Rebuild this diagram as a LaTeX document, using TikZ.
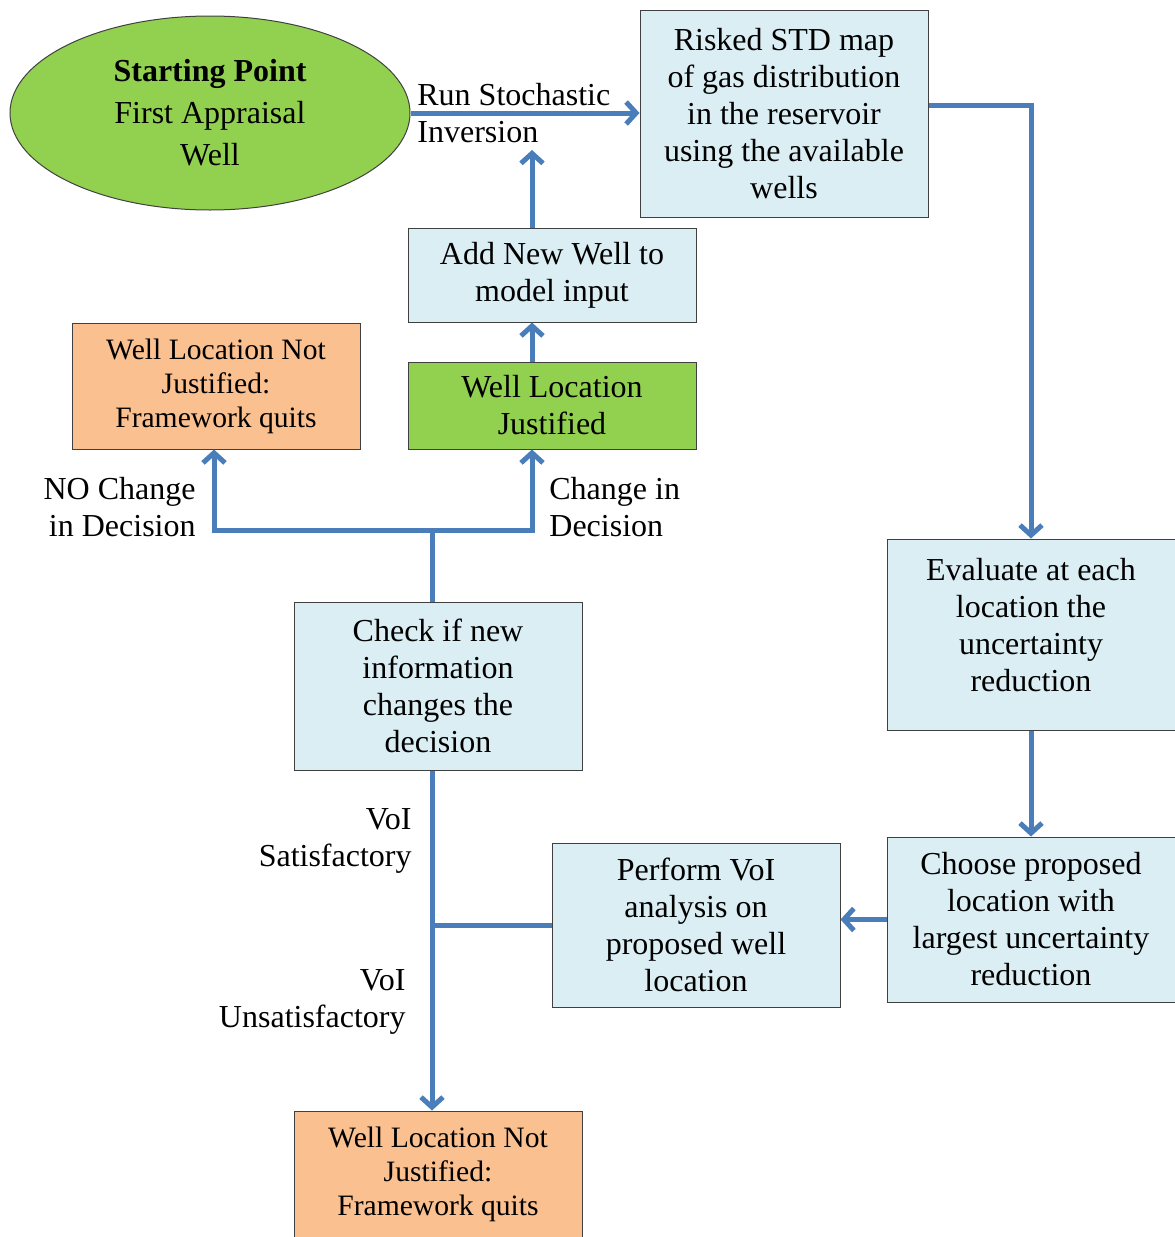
\documentclass[tikz,border=0pt]{standalone}
\usepackage{fontspec}
\setmainfont{Liberation Serif}
\usetikzlibrary{arrows.meta,shapes.geometric}

\definecolor{flowblue}{HTML}{4A7EBB}
\definecolor{boxblue}{HTML}{DBEEF4}
\definecolor{okgreen}{HTML}{92D050}
\definecolor{quitorange}{HTML}{FAC090}

\begin{document}
\begin{tikzpicture}[
  x=0.5pt, y=-0.5pt,
  font=\fontsize{16}{18.5}\selectfont,
  box/.style={draw=black!75, line width=0.5pt, align=center, inner sep=0pt,
              minimum width=144pt},
  infobox/.style={box, fill=boxblue},
  okbox/.style={box, fill=okgreen},
  quitbox/.style={box, fill=quitorange, minimum height=63pt,
                  font=\fontsize{14.8}{17}\selectfont},
  start/.style={ellipse, draw=black!75, line width=0.5pt, fill=okgreen,
                align=center, inner sep=0pt, minimum width=200pt,
                minimum height=97pt, font=\fontsize{16}{21}\selectfont},
  lbl/.style={inner sep=0pt},
  line/.style={draw=flowblue, line width=2.5pt},
  arr/.style={line, -{Straight Barb[length=5pt,width=11pt]}},
]
  \useasboundingbox (0,0) rectangle (1174,1237);

  \node[start] (start) at (210,113)
    {\textbf{Starting Point}\\First Appraisal\\Well};
  \node[infobox, minimum height=103.5pt] (risk) at (784,113.5)
    {Risked STD map\\of gas distribution\\in the reservoir\\using the available\\wells};
  \node[infobox, minimum height=47pt] (addwell) at (552,275)
    {Add New Well to\\model input};
  \node[okbox, minimum height=43.5pt] (okwell) at (552,405.5)
    {Well Location\\Justified};
  \node[quitbox] (nojust) at (216,386)
    {Well Location Not\\Justified:\\Framework quits};
  \node[infobox, minimum height=95.5pt] (eval) at (1031,634.5)
    {Evaluate at each\\location the\\uncertainty\\reduction\\[-8.5pt]};
  \node[infobox, minimum height=84pt] (check) at (438,686)
    {Check if new\\information\\changes the\\decision};
  \node[infobox, minimum height=82.5pt] (choose) at (1031,919.5)
    {Choose proposed\\location with\\largest uncertainty\\reduction};
  \node[infobox, minimum height=82pt] (perform) at (696,925)
    {Perform VoI\\analysis on\\proposed well\\location};
  \node[quitbox] (quit) at (438,1174)
    {Well Location Not\\Justified:\\Framework quits};

  % free ends of the connectors
  \coordinate (inv) at (532,150);
  \coordinate (spine) at (432,530);

  \draw[arr] (start.east) -- (start.east -| risk.west);
  \draw[arr] (addwell.north -| inv) -- (inv);
  \draw[arr] (okwell.north -| inv) -- (addwell.south -| inv);
  \draw[arr] (risk.east |- 0,105) -| (eval.north);
  \draw[arr] (eval.south) -- (choose.north);
  \draw[arr] (choose.west) -- (choose.west -| perform.east);
  \draw[line] (perform.west) -- (perform.west -| spine);
  \draw[arr] (check.south -| spine) -- (quit.north -| spine);
  \draw[line] (check.north -| spine) -- (spine);
  \draw[arr] (spine) -| (nojust.south -| 214,0);
  \draw[arr] (spine) -| (okwell.south -| inv);

  \node[lbl, anchor=west, align=left] (runlbl) at (417,113.5)
    {Run Stochastic\\Inversion};
  \node[lbl, anchor=east, align=right] (nolbl) at (196,507)
    {NO Change\\in Decision};
  \node[lbl, anchor=west, align=left] (chglbl) at (549,507)
    {Change in\\Decision};
  \node[lbl, anchor=east, align=right] (satlbl) at (412,841)
    {VoI\\Satisfactory};
  \node[lbl, anchor=east, align=right] (unsatlbl) at (406,1002)
    {VoI\\Unsatisfactory};
\end{tikzpicture}
\end{document}
